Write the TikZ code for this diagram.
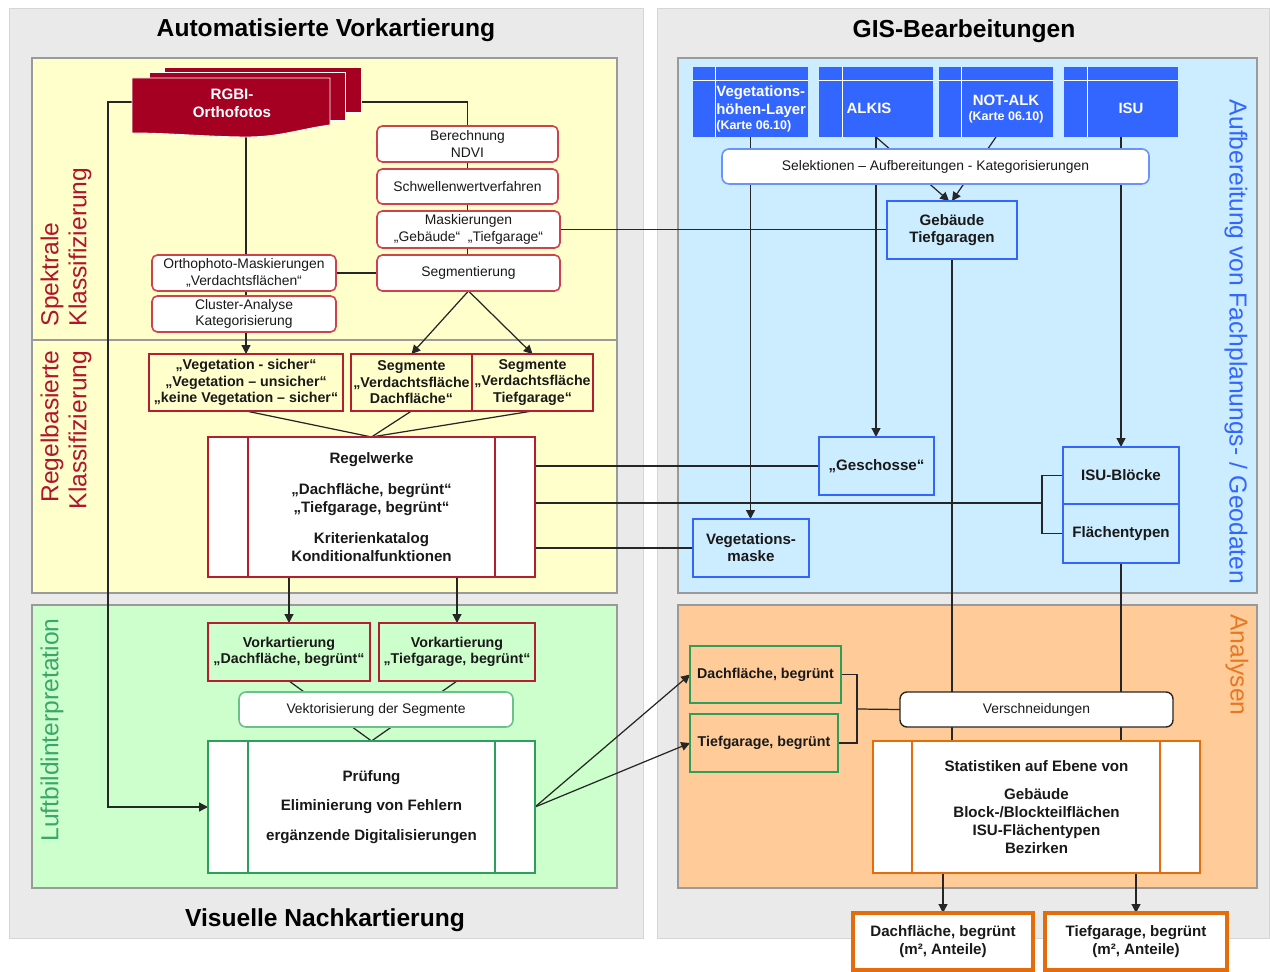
\documentclass[tikz,border=0pt]{standalone}
\usepackage{fontspec}
\setmainfont{Liberation Sans}
\usetikzlibrary{arrows.meta,calc}
\pgfdeclarelayer{back}\pgfdeclarelayer{mid}
\pgfsetlayers{back,mid,main}
\definecolor{dred}{HTML}{A50021}
\definecolor{bred}{HTML}{B41E30}
\definecolor{pred}{HTML}{D0404F}
\definecolor{lbred}{HTML}{B0152D}
\definecolor{yel}{HTML}{FFFFCC}
\definecolor{lblue}{HTML}{CCECFF}
\definecolor{lgreen}{HTML}{CCFFCC}
\definecolor{lorange}{HTML}{FFCC99}
\definecolor{gpanel}{HTML}{EAEAEA}
\definecolor{gline}{HTML}{D6D6D6}
\definecolor{pline}{HTML}{9A9A9A}
\definecolor{bblue}{HTML}{3366FF}
\definecolor{sblue}{HTML}{6A92FF}
\definecolor{bgreen}{HTML}{2E9E5C}
\definecolor{sgreen}{HTML}{6CC08A}
\definecolor{tgreen}{HTML}{3AA66B}
\definecolor{borange}{HTML}{E46C0A}
\definecolor{torange}{HTML}{E87722}
\definecolor{ln}{HTML}{262626}
\newcommand\myrf{\fontsize{7.9}{9.3}\selectfont}
\newcommand\mybf{\bfseries\fontsize{8.6}{9.6}\selectfont}
\newcommand\myrbf{\bfseries\fontsize{8.1}{9.4}\selectfont}
\newcommand\mybff{\bfseries\fontsize{8.6}{10.2}\selectfont}
\newcommand\mkbox[7]{\node[#6,minimum width={(#4-#2)*0.02cm},minimum height={(#5-#3)*0.02cm}] (#1) at ({(#2+#4)/2},{(#3+#5)/2}) {#7};}
\begin{document}
\begin{tikzpicture}[x=0.02cm,y=-0.02cm,
  base/.style={inner sep=0pt,outer sep=0pt,align=center,text=black!90},
  rbox/.style={base,draw=pred,line width=0.9pt,rounded corners=3pt,fill=white,font=\myrf},
  redbox/.style={base,draw=bred,line width=1.6pt,fill=yel,font=\myrbf},
  redpp/.style={base,draw=bred,line width=1.6pt,fill=white,font=\mybff},
  blbox/.style={base,draw=bblue,line width=1.4pt,fill=lblue,font=\mybf},
  selbox/.style={base,draw=sblue,line width=0.9pt,rounded corners=4pt,fill=white,font=\myrf},
  datbox/.style={base,fill=bblue},
  dtxt/.style={inner sep=0pt,text=white,font=\bfseries\fontsize{8.5}{10.6}\selectfont},
  grbox/.style={base,draw=bgreen,line width=1.4pt,fill=lgreen,font=\myrbf},
  grpp/.style={base,draw=bgreen,line width=1.4pt,fill=white,font=\mybff},
  vekbox/.style={base,draw=sgreen,line width=0.9pt,rounded corners=4pt,fill=white,font=\myrf},
  orpp/.style={base,draw=borange,line width=1.6pt,fill=white,font=\mybff},
  verbox/.style={base,draw=ln,line width=0.8pt,rounded corners=4pt,fill=white,font=\myrf},
  botbox/.style={base,draw=borange,line width=2.8pt,fill=white,font=\mybff},
  title/.style={inner sep=0pt,font=\bfseries\fontsize{14}{16}\selectfont},
  vlab/.style={inner sep=0pt,font=\fontsize{14}{15.9}\selectfont},
  conn/.style={draw=ln,line width=0.7pt},
  arr/.style={conn,-{Triangle[length=5pt,width=5pt]}}]
\useasboundingbox (0,0) rectangle (1270,972);
\begin{pgfonlayer}{back}
\fill[white] (0,0) rectangle (1270,972);
\filldraw[fill=gpanel,draw=gline,line width=0.5pt] (9,8) rectangle (643,938);
\filldraw[fill=gpanel,draw=gline,line width=0.5pt] (657,8) rectangle (1269,938);
\filldraw[fill=yel,draw=pline,line width=1.1pt] (32,58) rectangle (617,593);
\draw[pline,line width=1.1pt] (32,340) -- (617,340);
\filldraw[fill=lgreen,draw=pline,line width=1.1pt] (32,605) rectangle (617,888);
\filldraw[fill=lblue,draw=pline,line width=1.1pt] (678,58) rectangle (1257,593);
\filldraw[fill=lorange,draw=pline,line width=1.1pt] (678,605) rectangle (1257,888);
\end{pgfonlayer}
% titles and panel labels
\node[title] (t1) at (326,30) {Automatisierte Vorkartierung};
\node[title] (t2) at (964,31) {GIS-Bearbeitungen};
\node[title] (t3) at (325,920) {Visuelle Nachkartierung};
\node[vlab,rotate=90,align=left,text=lbred] (spk) at (66,247) {Spektrale\\Klassifizierung};
\node[vlab,rotate=90,align=right,text=lbred] (rgb) at (66,430) {Regelbasierte\\Klassifizierung};
\node[vlab,rotate=90,text=tgreen] (lbi) at (52,730) {Luftbildinterpretation};
\node[vlab,rotate=-90,text=bblue] (auf) at (1236,342) {Aufbereitung von Fachplanungs- / Geodaten};
\node[vlab,rotate=-90,text=torange] (ana) at (1237,665) {Analysen};
% RGBI stack
\filldraw[fill=dred,draw=white,line width=0.5pt] (164,67) rectangle (361,112);
\filldraw[fill=dred,draw=white,line width=0.5pt] (149,72) rectangle (345,120);
\filldraw[fill=dred,draw=white,line width=0.5pt] (132,78) -- (330,78) -- (330,125) .. controls (300,129) and (280,137) .. (247,137) .. controls (210,137) and (170,133) .. (132,133) -- cycle;
\node[inner sep=0pt,align=center,text=white,font=\mybff] (rgbi) at (232,103) {RGBI-\\Orthofotos};
\coordinate (rgbiL) at (132,102);
\coordinate (rgbiR) at (361,102);
\coordinate (rgbiB) at (246,136);
\coordinate (lc) at (108,102);
% spectral boxes
\mkbox{nd}{377}{126}{558}{162}{rbox}{Berechnung\\NDVI}
\mkbox{sw}{377}{169}{558}{204}{rbox}{Schwellenwertverfahren}
\mkbox{mk}{377}{211}{560}{248}{rbox}{Maskierungen\\„Gebäude“ \ „Tiefgarage“}
\mkbox{seg}{377}{255}{560}{291}{rbox}{Segmentierung}
\mkbox{om}{152}{255}{336}{291}{rbox}{Orthophoto-Maskierungen\\„Verdachtsflächen“}
\mkbox{ca}{152}{296}{336}{332}{rbox}{Cluster-Analyse\\Kategorisierung}
% rule based
\mkbox{vg}{149}{354}{343}{411}{redbox}{„Vegetation - sicher“\\„Vegetation – unsicher“\\„keine Vegetation – sicher“}
\mkbox{sd}{351}{354}{472}{411}{redbox}{Segmente\\„Verdachtsfläche\\Dachfläche“}
\mkbox{stg}{472}{354}{593}{411}{redbox}{Segmente\\„Verdachtsfläche\\Tiefgarage“}
\mkbox{rw}{208}{437}{535}{577}{redpp}{Regelwerke\\[7.4pt]„Dachfläche, begrünt“\\„Tiefgarage, begrünt“\\[7.4pt]Kriterienkatalog\\Konditionalfunktionen}
\draw[bred,line width=1.6pt] ($(rw.north west)+(40,0)$) -- ($(rw.south west)+(40,0)$);
\draw[bred,line width=1.6pt] ($(rw.north east)+(-40,0)$) -- ($(rw.south east)+(-40,0)$);
% visual
\mkbox{vd}{208}{623}{370}{681}{redbox,fill=lgreen}{Vorkartierung\\„Dachfläche, begrünt“}
\mkbox{vt}{379}{623}{535}{681}{redbox,fill=lgreen}{Vorkartierung\\„Tiefgarage, begrünt“}
\mkbox{vk}{239}{692}{513}{727}{vekbox}{Vektorisierung der Segmente}
\mkbox{pr}{208}{741}{535}{873}{grpp}{Prüfung\\[6.8pt]Eliminierung von Fehlern\\[6.8pt]ergänzende Digitalisierungen}
\draw[bgreen,line width=1.4pt] ($(pr.north west)+(40,0)$) -- ($(pr.south west)+(40,0)$);
\draw[bgreen,line width=1.4pt] ($(pr.north east)+(-40,0)$) -- ($(pr.south east)+(-40,0)$);
% GIS data boxes
\mkbox{vhl}{693}{67}{808}{137}{datbox}{}
\mkbox{alk}{819}{67}{933}{137}{datbox}{}
\mkbox{nalk}{939}{67}{1053}{137}{datbox}{}
\mkbox{isu}{1064}{67}{1178}{137}{datbox}{}
\draw[white,line width=0.5pt] (693,80) -- (808,80) (715,67) -- (715,137)
  (819,80) -- (933,80) (842,67) -- (842,137)
  (939,80) -- (1053,80) (961,67) -- (961,137)
  (1064,80) -- (1178,80) (1087,67) -- (1087,137);
\node[dtxt,anchor=west,align=left] (vhlt) at (716,109) {Vegetations-\\höhen-Layer\\[-2pt]{\fontsize{7.1}{8}\selectfont(Karte 06.10)}};
\node[dtxt] (alkt) at (869,108) {ALKIS};
\node[dtxt,align=center] (nalkt) at (1006,109) {NOT-ALK\\[-2pt]{\fontsize{7.1}{8}\selectfont(Karte 06.10)}};
\node[dtxt] (isut) at (1131,108) {ISU};
\mkbox{sel}{722}{149}{1149}{184}{selbox}{Selektionen – Aufbereitungen - Kategorisierungen}
\mkbox{geb}{887}{201}{1017}{259}{blbox}{Gebäude\\Tiefgaragen}
\mkbox{gs}{819}{437}{934}{495}{blbox}{„Geschosse“}
\mkbox{vm}{693}{519}{809}{577}{blbox}{Vegetations-\\maske}
\mkbox{isub}{1063}{447}{1179}{504}{blbox}{ISU-Blöcke}
\mkbox{ft}{1063}{504}{1179}{563}{blbox}{Flächentypen}
% analyses
\mkbox{gd}{690}{646}{841}{703}{grbox,fill=lorange}{Dachfläche, begrünt}
\mkbox{gt}{690}{714}{838}{772}{grbox,fill=lorange}{Tiefgarage, begrünt}
\mkbox{vs}{900}{692}{1173}{727}{verbox}{Verschneidungen}
\mkbox{sta}{873}{741}{1200}{873}{orpp}{Statistiken auf Ebene von\\[5.8pt]Gebäude\\Block-/Blockteilflächen\\ISU-Flächentypen\\Bezirken}
\draw[borange,line width=1.6pt] ($(sta.north west)+(39,0)$) -- ($(sta.south west)+(39,0)$);
\draw[borange,line width=1.6pt] ($(sta.north east)+(-40,0)$) -- ($(sta.south east)+(-40,0)$);
\mkbox{bd}{853}{913}{1033}{970}{botbox}{Dachfläche, begrünt\\(m², Anteile)}
\mkbox{bt}{1045}{913}{1227}{970}{botbox}{Tiefgarage, begrünt\\(m², Anteile)}
\coordinate (br) at (1042,503);
\coordinate (gb) at (857,709);
% connectors
\begin{pgfonlayer}{mid}
\draw[arr] (rgbiL) -- (lc) |- (pr.west);
\draw[conn] (rgbiR) -| (nd.north);
\draw[conn] (nd.south) -- (nd.south |- seg.north);
\draw[arr] (rgbiB) -- (rgbiB |- vg.north);
\draw[conn] (om.east) -- (seg.west);
\draw[conn] (mk.east) -- (mk.east -| geb.west);
\draw[arr] (seg.south) -- (sd.north);
\draw[arr] (seg.south) -- (stg.north);
\draw[conn] (vg.south) -- (rw.north);
\draw[conn] (sd.south) -- (rw.north);
\draw[conn] (stg.south) -- (rw.north);
\draw[conn] (rw.east |- gs.west) -- (gs.west);
\draw[conn] (rw.east |- br) -- (br);
\draw[conn] (isub.west) -| (br) |- (ft.west);
\draw[conn] (rw.east |- vm.west) -- (vm.west);
\draw[arr] (rw.south -| vd.north) -- (vd.north);
\draw[arr] (rw.south -| vt.north) -- (vt.north);
\draw[conn] (vd.south) -- (pr.north);
\draw[conn] (vt.south) -- (pr.north);
\draw[arr] (pr.east) -- (gd.west);
\draw[arr] (pr.east) -- (gt.west);
\draw[arr] (vhl.south) -- (vhl.south |- vm.north);
\draw[arr] (alk.south) -- (alk.south |- gs.north);
\draw[arr] (alk.south) -- ($(geb.north)+(-3,0)$);
\draw[arr] (nalk.south) -- ($(geb.north)+(0,0)$);
\draw[arr] (isu.south) -- (isu.south |- isub.north);
\draw[conn] (geb.south) -- (geb.south |- sta.north);
\draw[conn] (ft.south) -- (ft.south |- sta.north);
\draw[conn] (gd.east) -| (gb) |- (gt.east);
\draw[conn] (gb) -- (vs.west);
\draw[arr] (sta.south -| bd.north) -- (bd.north);
\draw[arr] (sta.south -| bt.north) -- (bt.north);
\end{pgfonlayer}
\end{tikzpicture}
\end{document}
